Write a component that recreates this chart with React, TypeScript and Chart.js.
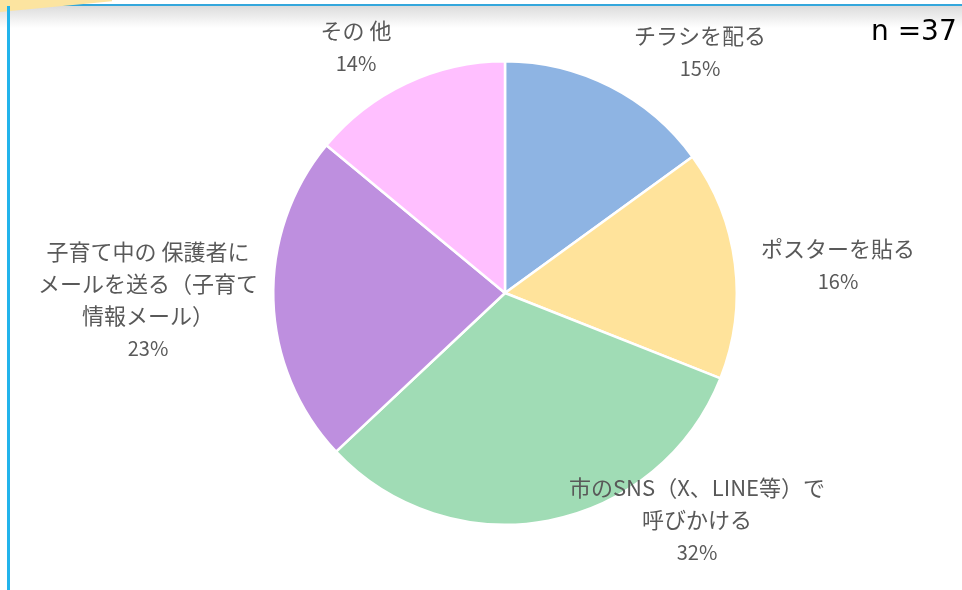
import React, { useEffect, useRef } from "react";
import { Chart, registerables } from "chart.js";

Chart.register(...registerables);

const categories = [
  ["チラシを配る"],
  ["ポスターを貼る"],
  ["市のSNS（X、LINE等）で", "呼びかける"],
  ["子育て中の 保護者に", "メールを送る（子育て", "情報メール）"],
  ["その 他"],
];
const values = [15, 16, 32, 23, 14];
const colors = ["#8EB4E3", "#FFE39B", "#A0DCB5", "#BE8FDF", "#FFBFFF"];
const sampleNote = "n =37";

// label anchor (center x, first line y) in canvas pixels
const labelPos = [
  [700, 36],
  [838, 249],
  [697, 488],
  [148, 252],
  [356, 31],
];
const lineH = 32;

export default function App() {
  const ref = useRef<HTMLCanvasElement>(null);
  useEffect(() => {
    if (!ref.current) return;
    const labelPlugin = {
      id: "outsideLabels",
      afterDraw(chart: any) {
        const ctx = chart.ctx;
        ctx.save();
        ctx.fillStyle = "#595959";
        ctx.textAlign = "center";
        ctx.textBaseline = "middle";
        ctx.font = "22px 'Noto Sans CJK JP'";
        categories.forEach((lines, i) => {
          const [x, y] = labelPos[i];
          lines.forEach((t, j) => ctx.fillText(t, x, y + j * lineH));
          ctx.font = "20px 'Noto Sans CJK JP'";
          ctx.fillText(values[i] + "%", x, y + lines.length * lineH);
          ctx.font = "22px 'Noto Sans CJK JP'";
        });
        ctx.restore();
      },
    };
    const chart = new Chart(ref.current, {
      type: "pie",
      data: {
        labels: categories.map((c) => c.join("")),
        datasets: [
          {
            data: values,
            backgroundColor: colors,
            borderColor: "#ffffff",
            borderWidth: 2.5,
          },
        ],
      },
      options: {
        responsive: false,
        animation: false,
        layout: { padding: { top: 60, bottom: 64, left: 272, right: 224 } },
        plugins: {
          legend: { display: false },
          tooltip: { enabled: false },
        },
      },
      plugins: [labelPlugin],
    });
    return () => chart.destroy();
  }, []);

  return (
    <div style={{ position: "fixed", left: 0, top: 0, width: 962, height: 590, background: "#fff", overflow: "hidden" }}>
      <div style={{ position: "absolute", left: 0, top: 6, width: 962, height: 22, background: "linear-gradient(#dcdcdc, rgba(255,255,255,0))" }} />
      <div style={{ position: "absolute", left: 0, top: 4, width: 962, height: 2, background: "#34A7DC" }} />
      <div style={{ position: "absolute", left: 0, top: 0, width: 112, height: 12, background: "#FCE4A0", clipPath: "polygon(0 0, 100% 0, 100% 10%, 0 100%)" }} />
      <div style={{ position: "absolute", left: 7, top: 6, width: 3, height: 584, background: "#22B4EC" }} />
      <canvas ref={ref} width={962} height={590} style={{ position: "absolute", left: 0, top: 0 }} />
      <div style={{ position: "absolute", left: 871, top: 14, fontFamily: "'DejaVu Sans', sans-serif", fontSize: 28, color: "#000", whiteSpace: "pre" }}>{sampleNote}</div>
    </div>
  );
}
